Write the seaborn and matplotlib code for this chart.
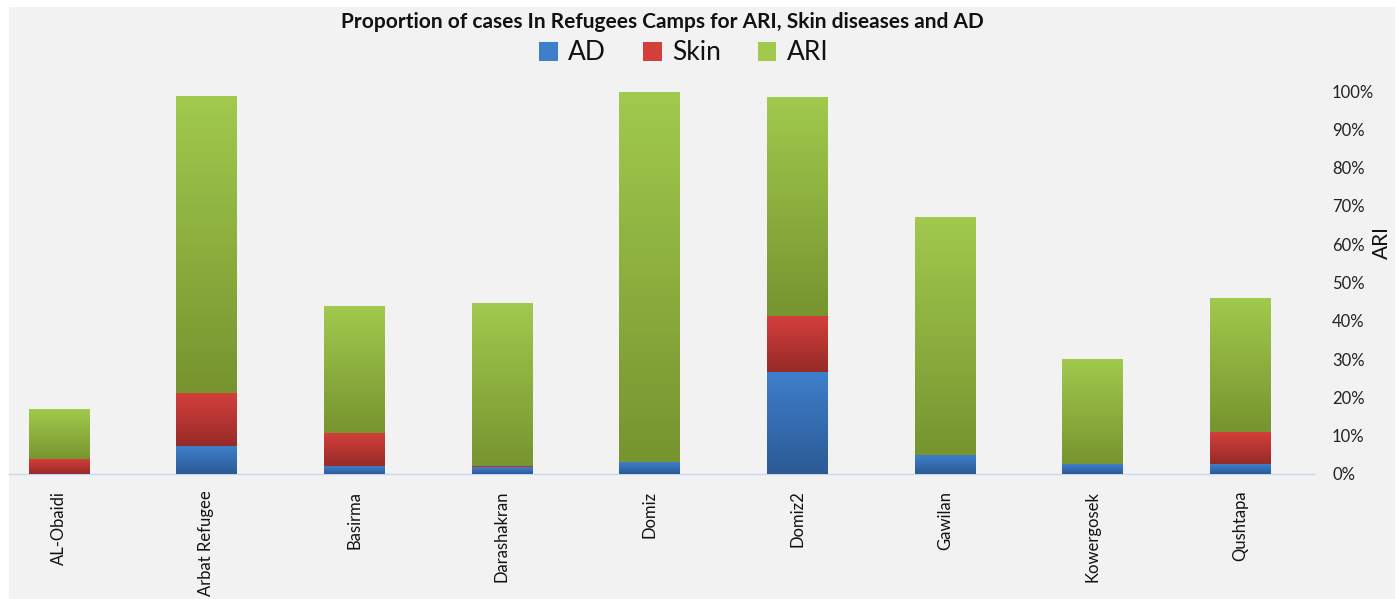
import numpy as np
import pandas as pd
import matplotlib
matplotlib.use("Agg")
import matplotlib.pyplot as plt
from matplotlib.patches import Rectangle
from matplotlib.colors import LinearSegmentedColormap
import seaborn as sns

# ---- data (percent) ----
camps = ["AL-Obaidi", "Arbat Refugee", "Basirma", "Darashakran", "Domiz",
         "Domiz2", "Gawilan", "Kowergosek", "Qushtapa"]
ad = [0.0, 7.1, 1.9, 1.75, 2.9, 26.6, 4.7, 2.35, 2.6]
skin = [3.7, 14.0, 8.7, 0.2, 0.0, 14.4, 0.0, 0.0, 8.3]
ari = [13.3, 77.3, 33.0, 42.65, 96.8, 57.4, 62.4, 27.65, 34.8]
series = ["AD", "Skin", "ARI"]
yticks = [0, 10, 20, 30, 40, 50, 60, 70, 80, 90, 100]

top_cols = {"AD": "#3e7fcc", "Skin": "#d33f3b", "ARI": "#a1c94d"}
bot_cols = {"AD": "#2c5a94", "Skin": "#962b28", "ARI": "#77942f"}

df = pd.DataFrame({"camp": camps, "AD": ad, "Skin": skin, "ARI": ari})
df["c_ad"] = df["AD"]
df["c_skin"] = df["AD"] + df["Skin"]
df["c_ari"] = df["c_skin"] + df["ARI"]

sns.set_theme(style="white")
plt.rcParams["font.family"] = ["Lato", "DejaVu Sans"]

W, H = 1396, 599
fig = plt.figure(figsize=(W / 100, H / 100), dpi=100, facecolor="white")
fig.patches.append(Rectangle((9 / W, 0), (W - 10) / W, (H - 7) / H,
                             transform=fig.transFigure, facecolor="#f2f2f2",
                             edgecolor="none", zorder=-10))

# axes: x -0.5..8.5 maps to px -15..1314 ; y 0..100 maps to px 474..91
x0, x1 = -15, 1314
yb, yt = 474, 91
ax = fig.add_axes([x0 / W, 1 - yb / H, (x1 - x0) / W, (yb - yt) / H])
ax.set_facecolor("none")

bw = 0.41
layers = [("c_ari", "ARI"), ("c_skin", "Skin"), ("c_ad", "AD")]
for col, name in layers:
    sns.barplot(data=df, x="camp", y=col, color=top_cols[name], width=bw,
                ax=ax, saturation=1, errorbar=None, edgecolor="none")

# gradient overlay on each visible segment
lower = {"ARI": "c_skin", "Skin": "c_ad", "AD": None}
for i, camp in enumerate(camps):
    for col, name in layers:
        top = df.loc[i, col]
        bot = 0.0 if lower[name] is None else df.loc[i, lower[name]]
        if top - bot <= 0.05:
            continue
        cmap = LinearSegmentedColormap.from_list("g", [bot_cols[name], top_cols[name]])
        grad = np.linspace(0, 1, 64).reshape(-1, 1)
        ax.imshow(grad, cmap=cmap, aspect="auto", origin="lower",
                  extent=(i - bw / 2, i + bw / 2, bot, top), zorder=3)
ax.set_xlim(-0.5, 8.5)
ax.set_ylim(0, 100)

ax.yaxis.tick_right()
ax.yaxis.set_label_position("right")
ax.set_yticks(yticks)
ax.set_yticklabels([f"{v}%" for v in yticks], fontsize=12, color="#222222")
ax.tick_params(axis="y", length=0, pad=13)
ax.set_ylabel("")
fig.text(1382 / W, 1 - 243 / H, "ARI", rotation=90, ha="center", va="center",
         fontsize=15, color="#111111")

ax.set_xlabel("")
ax.set_xticks(range(len(camps)))
ax.set_xticklabels(camps, rotation=90, fontsize=12, color="#111111", va="top")
ax.tick_params(axis="x", length=0, pad=12)
ax.set_xticks(np.arange(-0.5, 9, 1), minor=True)
ax.tick_params(axis="x", which="minor", length=5, color="#c6d9f0", width=1)

for s in ["top", "left", "right"]:
    ax.spines[s].set_visible(False)
ax.spines["bottom"].set_color("#c6d9f0")
ax.spines["bottom"].set_linewidth(1)
ax.spines["bottom"].set_bounds(-0.5 + 24 / 147.6, 8.5)
ax.grid(False)

fig.text(662 / W, 1 - 22 / H, "Proportion of cases In Refugees Camps for ARI, Skin diseases and AD",
         ha="center", va="center", fontsize=15, fontweight="bold", color="#111111")

handles = [Rectangle((0, 0), 1, 1, facecolor=top_cols[s], edgecolor="none") for s in series]
fig.legend(handles, series, loc="center", bbox_to_anchor=(684 / W, 1 - 53 / H), ncol=3,
           frameon=False, fontsize=19, handlelength=0.7, handleheight=0.7,
           handletextpad=0.4, columnspacing=1.4, labelcolor="#111111")

fig.savefig("out.png", dpi=100, facecolor="white")
